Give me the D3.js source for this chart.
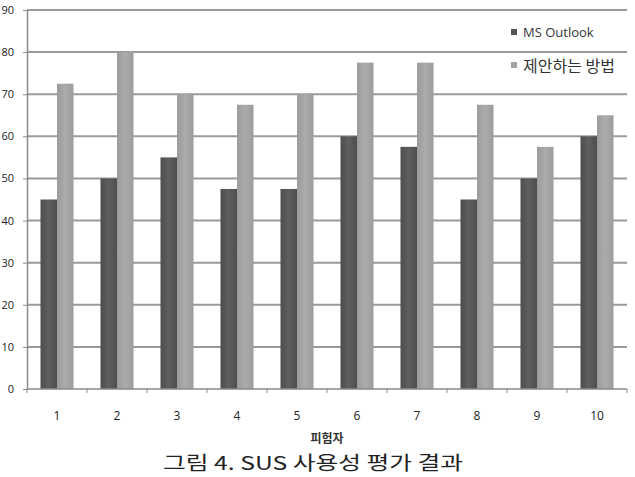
<!DOCTYPE html>
<html>
<head>
<meta charset="utf-8">
<script src="https://cdn.jsdelivr.net/npm/d3@7"></script>
<style>
  html, body { margin: 0; padding: 0; background: #fff; overflow: hidden; }
  svg { display: block; }
</style>
</head>
<body>
<svg id="chart" width="635" height="477"></svg>
<script>
const categories = ["1", "2", "3", "4", "5", "6", "7", "8", "9", "10"];
const seriesNames = ["MS Outlook", "제안하는 방법"];
const outlookValues = [45, 50, 55, 47.5, 47.5, 60, 57.5, 45, 50, 60];
const proposedValues = [72.5, 80, 70, 67.5, 70, 77.5, 77.5, 67.5, 57.5, 65];
const yTicks = [0, 10, 20, 30, 40, 50, 60, 70, 80, 90];
const xTitle = "피험자";
const caption = "그림 4. SUS 사용성 평가 결과";

(function () {
const svg = d3.select("#chart");
const pLeft = 27, pRight = 627, pTop = 10, pBottom = 389;

const x0 = d3.scaleBand().domain(categories).range([pLeft, pRight]).paddingInner(0.45).paddingOuter(0.225);
const x1 = d3.scaleBand().domain(seriesNames).range([0, x0.bandwidth()]).padding(0);
const y = d3.scaleLinear().domain([0, 90]).range([pBottom, pTop]);

const defs = svg.append("defs");
function grad(id, edge, mid) {
  const g = defs.append("linearGradient").attr("id", id).attr("x1", "0%").attr("x2", "100%");
  g.append("stop").attr("offset", "0%").attr("stop-color", edge);
  g.append("stop").attr("offset", "50%").attr("stop-color", mid);
  g.append("stop").attr("offset", "100%").attr("stop-color", edge);
}
grad("gDark", "#4d4d4d", "#5f5f5f");
grad("gLight", "#9c9c9c", "#ababab");
const fills = { "MS Outlook": "url(#gDark)", "제안하는 방법": "url(#gLight)" };
const legendFills = { "MS Outlook": "#555555", "제안하는 방법": "#a3a3a3" };

// gridlines
svg.append("g").selectAll("line").data(yTicks.filter(d => d > 0)).join("line")
  .attr("x1", pLeft).attr("x2", pRight)
  .attr("y1", d => y(d)).attr("y2", d => y(d))
  .attr("stroke", "#9a9a9a").attr("stroke-width", 2);

// y axis
const yAxis = d3.axisLeft(y).tickValues(yTicks).tickSize(4).tickPadding(9).tickSizeOuter(0);
const gy = svg.append("g").attr("transform", `translate(${pLeft},0)`).call(yAxis);
gy.select(".domain").attr("stroke", "#8a8a8a").attr("stroke-width", 1.5);
gy.selectAll(".tick line").attr("stroke", "#8a8a8a");
gy.selectAll(".tick text").attr("font-family", "'Open Sans', 'DejaVu Sans', sans-serif")
  .attr("font-size", 11).attr("fill", "#222");

// bars
const rows = categories.map((c, i) => ({ c, vals: [
  { s: seriesNames[0], v: outlookValues[i] },
  { s: seriesNames[1], v: proposedValues[i] }
]}));
const groups = svg.append("g").selectAll("g").data(rows).join("g")
  .attr("transform", d => `translate(${x0(d.c)},0)`);
groups.selectAll("rect").data(d => d.vals).join("rect")
  .attr("x", d => x1(d.s))
  .attr("y", d => y(d.v))
  .attr("width", x1.bandwidth())
  .attr("height", d => y(0) - y(d.v))
  .attr("fill", d => fills[d.s]);

// x axis
const step = x0.step();
const xAxisG = svg.append("g");
xAxisG.append("line").attr("x1", pLeft).attr("x2", pRight).attr("y1", pBottom).attr("y2", pBottom)
  .attr("stroke", "#8a8a8a").attr("stroke-width", 1.5);
const boundaries = d3.range(categories.length + 1).map(i => pLeft + i * step);
xAxisG.selectAll("line.tk").data(boundaries).join("line").attr("class", "tk")
  .attr("x1", d => d).attr("x2", d => d).attr("y1", pBottom).attr("y2", pBottom + 4)
  .attr("stroke", "#8a8a8a");
xAxisG.selectAll("text").data(categories).join("text")
  .attr("x", d => x0(d) + x0.bandwidth() / 2)
  .attr("y", 420)
  .attr("text-anchor", "middle")
  .attr("font-family", "'Open Sans', 'DejaVu Sans', sans-serif")
  .attr("font-size", 12).attr("fill", "#222")
  .text(d => d);

// axis title
svg.append("text").attr("x", 327).attr("y", 443).attr("text-anchor", "middle")
  .attr("font-family", "'Noto Sans CJK KR', sans-serif").attr("font-weight", "bold")
  .attr("font-size", 12).attr("fill", "#333").text(xTitle);

// legend
const legend = svg.append("g");
const legY = [32, 65];
seriesNames.forEach((s, i) => {
  legend.append("rect").attr("x", 511).attr("y", legY[i] - 3).attr("width", 6).attr("height", 6)
    .attr("fill", legendFills[s]);
  legend.append("text").attr("x", 523).attr("y", legY[i]).attr("dominant-baseline", "central")
    .attr("font-family", i === 0 ? "'Open Sans', sans-serif" : "'Noto Sans CJK KR', sans-serif")
    .attr("font-size", i === 0 ? 13 : 16).attr("fill", "#333").text(s);
});

// caption
svg.append("text").attr("x", 313).attr("y", 470).attr("text-anchor", "middle")
  .attr("font-family", "'Noto Sans CJK KR', sans-serif")
  .attr("font-size", 19).attr("fill", "#222")
  .attr("textLength", 300).attr("lengthAdjust", "spacingAndGlyphs")
  .text(caption);
})();
</script>
</body>
</html>
